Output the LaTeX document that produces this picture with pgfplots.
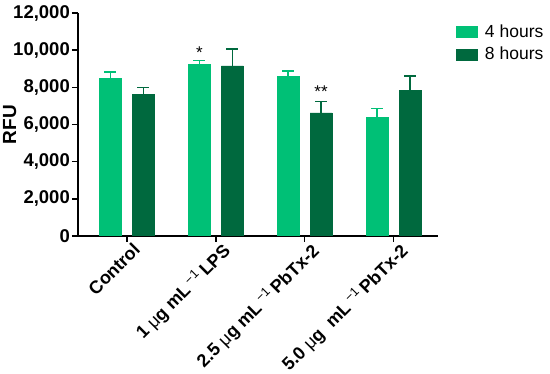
\documentclass[border=0pt]{standalone}
\usepackage{pgfplots}
\pgfplotsset{compat=1.18}
\usepackage{fontspec}
\setmainfont{Liberation Sans}
\definecolor{lg}{RGB}{0,192,118}
\definecolor{dg}{RGB}{0,105,62}
\newcommand{\mug}{{\mdseries μ}g}
\newcommand{\minusone}{\,\textsuperscript{\mdseries −1}\,}
\pgfplotstableread{
x y ey
0 8500 330
1 9220 230
2 8580 300
3 6400 460
}\fourh
\pgfplotstableread{
x y ey
0 7620 360
1 9150 900
2 6620 630
3 7830 770
}\eighth
\begin{document}
\begin{tikzpicture}[x=1pt,y=1pt]
\useasboundingbox (-78,-138) rectangle (472,236);
\begin{axis}[
  at={(0,0)}, anchor=south west,
  scale only axis, width=360pt, height=223pt,
  xmin=-0.55, xmax=3.5, ymin=0, ymax=12000,
  axis x line*=bottom, axis y line*=left,
  axis line style={line width=1.5pt},
  ybar, bar width=22pt,
  xtick={0,1,2,3},
  xticklabels={Control,
    1 \mug{} mL\minusone LPS,
    2.5 \mug{} mL\minusone PbTx-2,
    5.0 \mug\ \ mL\minusone PbTx-2},
  ytick={0,2000,...,12000},
  scaled y ticks=false,
  /pgf/number format/.cd, 1000 sep={,}, assume math mode=true,
  /pgfplots/.cd,
  tick align=outside, tick pos=left,
  major tick length=6pt,
  tick style={line width=1.5pt, black},
  yticklabel style={font=\bfseries\fontsize{18.5}{18.5}\selectfont, inner sep=2pt},
  xticklabel style={font=\bfseries\fontsize{18}{18}\selectfont, rotate=45, anchor=north east, inner sep=1pt, xshift=5pt, yshift=-2pt},
  ylabel={RFU},
  ylabel style={font=\bfseries\fontsize{19}{19}\selectfont, at={(axis description cs:-0.19,0.5)}, anchor=center},
  legend style={at={(rel axis cs:1.04,0.965)}, anchor=north west, draw=none, fill=none,
    font=\fontsize{17.5}{17.5}\selectfont, row sep=4pt,
    nodes={inner xsep=8pt}},
  legend cell align=left,
]
\addplot[fill=lg, draw=lg, bar shift=-16.5pt,
  legend image code/.code={\fill[lg] (0pt,-5.5pt) rectangle (21pt,5.5pt);},
  error bars/.cd, y dir=plus, y explicit,
  error bar style={line width=1.5pt, lg},
  error mark options={rotate=90, mark size=6pt, line width=1.5pt, lg}]
  table[x=x, y=y, y error=ey] {\fourh};
\addlegendentry{4 hours}
\addplot[fill=dg, draw=dg, bar shift=16.5pt,
  legend image code/.code={\fill[dg] (0pt,-5.5pt) rectangle (21pt,5.5pt);},
  error bars/.cd, y dir=plus, y explicit,
  error bar style={line width=1.5pt, dg},
  error mark options={rotate=90, mark size=6pt, line width=1.5pt, dg}]
  table[x=x, y=y, y error=ey] {\eighth};
\addlegendentry{8 hours}
\node[font=\fontsize{17}{17}\selectfont] at (axis cs:0.815,9850) {*};
\node[font=\fontsize{17}{17}\selectfont] at (axis cs:2.185,7750) {**};
\end{axis}
\end{tikzpicture}
\end{document}
